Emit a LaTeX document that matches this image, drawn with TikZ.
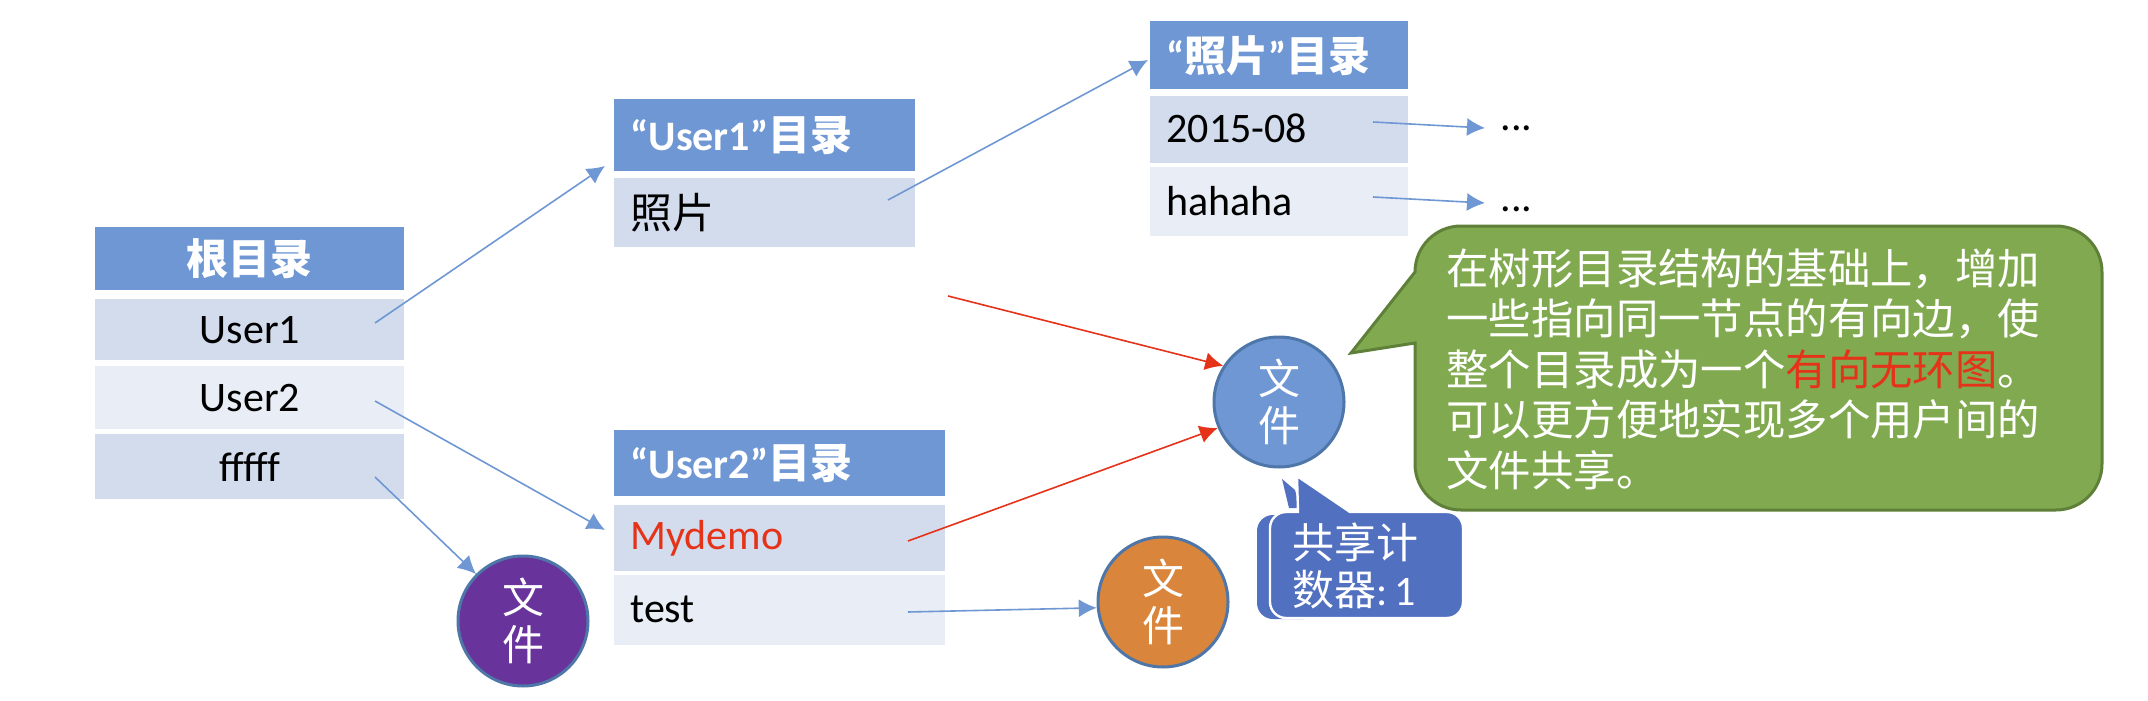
\documentclass[tikz,border=0pt]{standalone}
\usepackage{fontspec}
\setmainfont{Carlito}
\newfontfamily\cjk{Noto Sans CJK SC}
\usetikzlibrary{arrows.meta}
\definecolor{hdr}{HTML}{6E97D3}
\definecolor{rowA}{HTML}{D3DCED}
\definecolor{rowB}{HTML}{E9EDF6}
\definecolor{grn}{HTML}{81AA50}
\definecolor{grnD}{HTML}{5F8039}
\definecolor{circD}{HTML}{4E76A8}
\definecolor{org}{HTML}{D9853B}
\definecolor{pur}{HTML}{68339B}
\definecolor{cb}{HTML}{5270C0}
\definecolor{rd}{HTML}{E5331A}
\newcommand{\lift}[2]{\raisebox{#1}{#2}}
\tikzset{
  cell/.style={inner ysep=0pt,inner xsep=8pt,font=\fontsize{21}{25}\selectfont,anchor=north west},
  head/.style={cell,fill=hdr,text=white,font=\fontsize{21}{25}\selectfont\bfseries},
  rowa/.style={cell,fill=rowA,text=black},
  rowb/.style={cell,fill=rowB,text=black},
  filec/.style={circle,draw=circD,line width=1.5pt,minimum size=65pt,inner sep=0pt,text=white,align=center,
    font=\fontsize{21}{23.5}\selectfont\cjk},
  blueln/.style={draw=hdr,line width=.8pt,-{Latex[length=9pt,width=9pt]}},
  redln/.style={draw=rd,line width=.8pt,-{Latex[length=9pt,width=9pt]}},
  dotsn/.style={inner sep=0pt,anchor=base west,font=\fontsize{21}{25}\selectfont,text=black},
  rootw/.style={text width=138.5pt,align=center,minimum height=#1},
  photow/.style={text width=113pt,align=left,minimum height=#1},
  uonew/.style={text width=134.5pt,align=left,minimum height=#1},
  utwow/.style={text width=149.5pt,align=left,minimum height=#1},
}
\begin{document}
\begin{tikzpicture}[x=.5pt,y=-.5pt]
\useasboundingbox (0,0) rectangle (2148,701);
% root
\node[head,rootw=31.5pt] (rootH) at (95,227) {\cjk 根目录};
\node[rowa,rootw=30.5pt] (rootU1) at (95,299) {User1};
\node[rowb,rootw=31.5pt] (rootU2) at (95,366) {User2};
\node[rowa,rootw=32.5pt] (rootF) at (95,434) {fffff};
% user1
\node[head,uonew=36pt] (u1H) at (614,99) {\lift{2pt}{“User1”{\cjk 目录}}};
\node[rowa,uonew=34.5pt] (u1P) at (614,178) {\lift{1.4pt}{\cjk 照片}};
% user2
\node[head,utwow=33pt] (u2H) at (614,430) {\lift{1.4pt}{“User2”{\cjk 目录}}};
\node[rowa,utwow=33pt] (u2M) at (614,505) {\lift{.7pt}{\textcolor{rd}{Mydemo}}};
\node[rowb,utwow=35pt] (u2T) at (614,575) {\lift{.7pt}{test}};
% photo
\node[head,photow=34pt] (phH) at (1150,21) {\lift{1.4pt}{“{\cjk 照片}”{\cjk 目录}}};
\node[rowa,photow=33.5pt] (ph1) at (1150,96) {\lift{1.4pt}{2015-08}};
\node[rowb,photow=34.5pt] (ph2) at (1150,167) {\lift{1.4pt}{hahaha}};
\node[dotsn] (dots1) at (1500,131) {...};
\node[dotsn] (dots2) at (1500,212) {...};
% files
\node[filec,fill=hdr] (fileB) at (1279,402) {\lift{-1.5pt}{文}\\\lift{-1.5pt}{件}};
\node[filec,fill=org] (fileO) at (1163,602) {文\\件};
\node[filec,fill=pur] (fileP) at (523,621) {文\\件};
% connector ends
\coordinate (s1) at (375,323);
\coordinate (e1) at (605,166);
\coordinate (s2) at (375,401);
\coordinate (e2) at (605,530);
\coordinate (s3) at (375,477);
\coordinate (s4) at (888,200);
\coordinate (e4) at (1148,60);
\coordinate (s5) at (1373,122);
\coordinate (e5) at (1485,128);
\coordinate (s6) at (1373,197);
\coordinate (e6) at (1485,203);
\coordinate (s7) at (948,296);
\coordinate (s8) at (908,541);
\coordinate (s9) at (908,612);
\draw[blueln] (s1) -- (e1);
\draw[blueln] (s2) -- (e2);
\draw[blueln] (s3) -- (fileP.135);
\draw[blueln] (s4) -- (e4);
\draw[blueln] (s5) -- (e5);
\draw[blueln] (s6) -- (e6);
\draw[redln] (s7) -- (fileB.147);
\draw[redln] (s8) -- (fileB.203);
\draw[blueln] (s9) -- (fileO.185);
% green callout
\draw[fill=grn,draw=grnD,line width=1.5pt] (1415,272) [rounded corners=23pt] -- (1415,226) -- (2102,226) -- (2102,510) -- (1415,510) -- (1415,420) [sharp corners] -- (1415,343) -- (1351,353) -- cycle;
\node[anchor=west,inner sep=0pt,align=left,text=white,font=\fontsize{21.2}{25.25}\selectfont\cjk] (note) at (1446,369) {在树形目录结构的基础上，增加\\一些指向同一节点的有向边，使\\整个目录成为一个\textcolor{rd}{有向无环图}。\\可以更方便地实现多个用户间的\\文件共享。};
% small callout
\fill[cb,rounded corners=8pt] (1257,515) rectangle (1320,619);
\fill[cb] (1282,479) -- (1295,490) -- (1300,508) -- (1289,508) -- cycle;
\draw[fill=cb,draw=white,line width=1.2pt] (1298,512) [rounded corners=8pt] -- (1270,512) -- (1270,618) -- (1463,618) -- (1463,512) -- (1400,512) [sharp corners] -- (1350,512) -- (1297,476) -- cycle;
\node[anchor=west,inner sep=0pt,align=left,text=white,font=\fontsize{21}{23.5}\selectfont] (count) at (1292,566) {{\cjk 共享计}\\{\cjk 数器}:\,1};
\end{tikzpicture}
\end{document}
